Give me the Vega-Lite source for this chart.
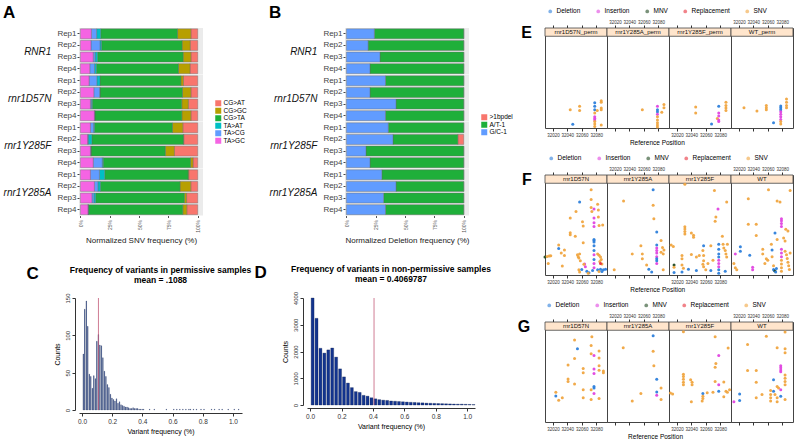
{
"$schema":"https://vega.github.io/schema/vega-lite/v6.json",
"background":"white",
"padding":{"left":3,"right":2,"top":4,"bottom":2},
"config":{"font":"Liberation Sans","view":{"stroke":null},"axis":{"labelFont":"Liberation Sans","titleFont":"Liberation Sans"},"legend":{"labelFont":"Liberation Sans","layout":{"top":{"anchor":"middle"}}},"title":{"font":"Liberation Sans"}},
"datasets":{
"snv":[
{"g":"RNR1","r":"Rep1","TA>GC":0.093,"TA>CG":0.045,"TA>AT":0.035,"CG>TA":0.655,"CG>GC":0.114,"CG>AT":0.058},
{"g":"RNR1","r":"Rep2","TA>GC":0.09,"TA>CG":0.077,"TA>AT":0.013,"CG>TA":0.687,"CG>GC":0.069,"CG>AT":0.064},
{"g":"RNR1","r":"Rep3","TA>GC":0.109,"TA>CG":0.016,"TA>AT":0.021,"CG>TA":0.729,"CG>GC":0.066,"CG>AT":0.058},
{"g":"RNR1","r":"Rep4","TA>GC":0.08,"TA>CG":0.04,"TA>AT":0.016,"CG>TA":0.70,"CG>GC":0.098,"CG>AT":0.066},
{"g":"rnr1D57N","r":"Rep1","TA>GC":0.074,"TA>CG":0.066,"TA>AT":0.027,"CG>TA":0.69,"CG>GC":0.021,"CG>AT":0.122},
{"g":"rnr1D57N","r":"Rep2","TA>GC":0.114,"TA>CG":0.05,"TA>AT":0.003,"CG>TA":0.703,"CG>GC":0.072,"CG>AT":0.058},
{"g":"rnr1D57N","r":"Rep3","TA>GC":0.085,"TA>CG":0.008,"TA>AT":0.008,"CG>TA":0.763,"CG>GC":0.056,"CG>AT":0.08},
{"g":"rnr1D57N","r":"Rep4","TA>GC":0.119,"TA>CG":0.003,"TA>AT":0,"CG>TA":0.743,"CG>GC":0.077,"CG>AT":0.058},
{"g":"rnr1Y285F","r":"Rep1","TA>GC":0.085,"TA>CG":0.027,"TA>AT":0.008,"CG>TA":0.665,"CG>GC":0.088,"CG>AT":0.127},
{"g":"rnr1Y285F","r":"Rep2","TA>GC":0.061,"TA>CG":0.005,"TA>AT":0.032,"CG>TA":0.78,"CG>GC":0.003,"CG>AT":0.119},
{"g":"rnr1Y285F","r":"Rep3","TA>GC":0.085,"TA>CG":0.005,"TA>AT":0,"CG>TA":0.634,"CG>GC":0.077,"CG>AT":0.199},
{"g":"rnr1Y285F","r":"Rep4","TA>GC":0.109,"TA>CG":0.077,"TA>AT":0.008,"CG>TA":0.745,"CG>GC":0.021,"CG>AT":0.04},
{"g":"rnr1Y285A","r":"Rep1","TA>GC":0.085,"TA>CG":0.077,"TA>AT":0.045,"CG>TA":0.711,"CG>GC":0.005,"CG>AT":0.077},
{"g":"rnr1Y285A","r":"Rep2","TA>GC":0.117,"TA>CG":0.029,"TA>AT":0.021,"CG>TA":0.668,"CG>GC":0.09,"CG>AT":0.058},
{"g":"rnr1Y285A","r":"Rep3","TA>GC":0.098,"TA>CG":0.016,"TA>AT":0.016,"CG>TA":0.756,"CG>GC":0.019,"CG>AT":0.095},
{"g":"rnr1Y285A","r":"Rep4","TA>GC":0.064,"TA>CG":0.003,"TA>AT":0,"CG>TA":0.806,"CG>GC":0.034,"CG>AT":0.093}],
"del":[
{"g":"RNR1","r":"Rep1","G/C-1":0.238,"A/T-1":0.762,">1bpdel":0},
{"g":"RNR1","r":"Rep2","G/C-1":0.185,"A/T-1":0.815,">1bpdel":0},
{"g":"RNR1","r":"Rep3","G/C-1":0.286,"A/T-1":0.714,">1bpdel":0},
{"g":"RNR1","r":"Rep4","G/C-1":0.201,"A/T-1":0.799,">1bpdel":0},
{"g":"rnr1D57N","r":"Rep1","G/C-1":0.333,"A/T-1":0.667,">1bpdel":0},
{"g":"rnr1D57N","r":"Rep2","G/C-1":0.201,"A/T-1":0.799,">1bpdel":0},
{"g":"rnr1D57N","r":"Rep3","G/C-1":0.423,"A/T-1":0.577,">1bpdel":0},
{"g":"rnr1D57N","r":"Rep4","G/C-1":0.333,"A/T-1":0.667,">1bpdel":0},
{"g":"rnr1Y285F","r":"Rep1","G/C-1":0.357,"A/T-1":0.643,">1bpdel":0},
{"g":"rnr1Y285F","r":"Rep2","G/C-1":0.397,"A/T-1":0.553,">1bpdel":0.05},
{"g":"rnr1Y285F","r":"Rep3","G/C-1":0.167,"A/T-1":0.833,">1bpdel":0},
{"g":"rnr1Y285F","r":"Rep4","G/C-1":0.201,"A/T-1":0.799,">1bpdel":0},
{"g":"rnr1Y285A","r":"Rep1","G/C-1":0.302,"A/T-1":0.698,">1bpdel":0},
{"g":"rnr1Y285A","r":"Rep2","G/C-1":0.423,"A/T-1":0.577,">1bpdel":0},
{"g":"rnr1Y285A","r":"Rep3","G/C-1":0.317,"A/T-1":0.683,">1bpdel":0},
{"g":"rnr1Y285A","r":"Rep4","G/C-1":0.333,"A/T-1":0.667,">1bpdel":0}],
"histC":[
{"lo":0,"hi":0.01,"n":75},{"lo":0.01,"hi":0.02,"n":135},{"lo":0.02,"hi":0.03,"n":146},{"lo":0.03,"hi":0.04,"n":112},{"lo":0.04,"hi":0.05,"n":48},{"lo":0.05,"hi":0.06,"n":45},{"lo":0.06,"hi":0.07,"n":29},{"lo":0.07,"hi":0.08,"n":46},{"lo":0.08,"hi":0.09,"n":42},{"lo":0.09,"hi":0.1,"n":92},{"lo":0.1,"hi":0.11,"n":101},{"lo":0.11,"hi":0.12,"n":87},{"lo":0.12,"hi":0.13,"n":86},{"lo":0.13,"hi":0.14,"n":70},{"lo":0.14,"hi":0.15,"n":52},{"lo":0.15,"hi":0.16,"n":45},{"lo":0.16,"hi":0.17,"n":34},{"lo":0.17,"hi":0.18,"n":30},{"lo":0.18,"hi":0.19,"n":21},{"lo":0.19,"hi":0.2,"n":16},{"lo":0.2,"hi":0.21,"n":14},{"lo":0.21,"hi":0.22,"n":12},{"lo":0.22,"hi":0.23,"n":15},{"lo":0.23,"hi":0.24,"n":9},{"lo":0.24,"hi":0.25,"n":11},{"lo":0.25,"hi":0.26,"n":7},{"lo":0.26,"hi":0.27,"n":6},{"lo":0.27,"hi":0.28,"n":5},{"lo":0.28,"hi":0.29,"n":4},{"lo":0.29,"hi":0.3,"n":4},{"lo":0.3,"hi":0.31,"n":3},{"lo":0.31,"hi":0.32,"n":2},{"lo":0.32,"hi":0.33,"n":2},{"lo":0.33,"hi":0.34,"n":3},{"lo":0.34,"hi":0.35,"n":2},{"lo":0.35,"hi":0.36,"n":2},{"lo":0.36,"hi":0.37,"n":2},{"lo":0.37,"hi":0.38,"n":1},{"lo":0.38,"hi":0.39,"n":1},{"lo":0.39,"hi":0.4,"n":1},{"lo":0.4,"hi":0.41,"n":1},{"lo":0.44,"hi":0.45,"n":1},{"lo":0.47,"hi":0.48,"n":1},{"lo":0.55,"hi":0.56,"n":1},{"lo":0.6,"hi":0.61,"n":1},{"lo":0.62,"hi":0.63,"n":1},{"lo":0.64,"hi":0.65,"n":1},{"lo":0.66,"hi":0.67,"n":1},{"lo":0.68,"hi":0.69,"n":1},{"lo":0.7,"hi":0.71,"n":1},{"lo":0.71,"hi":0.72,"n":1},{"lo":0.73,"hi":0.74,"n":1},{"lo":0.75,"hi":0.76,"n":1},{"lo":0.78,"hi":0.79,"n":1},{"lo":0.8,"hi":0.81,"n":1},{"lo":0.85,"hi":0.86,"n":1},{"lo":0.87,"hi":0.88,"n":1},{"lo":0.9,"hi":0.91,"n":1},{"lo":0.92,"hi":0.93,"n":1},{"lo":0.96,"hi":0.97,"n":1},{"lo":1.0,"hi":1.01,"n":1},{"lo":1.03,"hi":1.04,"n":1}],
"histD":[
{"lo":0,"hi":0.025,"n":4000},{"lo":0.025,"hi":0.05,"n":3240},{"lo":0.05,"hi":0.075,"n":2120},{"lo":0.075,"hi":0.1,"n":1940},{"lo":0.1,"hi":0.125,"n":2060},{"lo":0.125,"hi":0.15,"n":2130},{"lo":0.15,"hi":0.175,"n":1790},{"lo":0.175,"hi":0.2,"n":1350},{"lo":0.2,"hi":0.225,"n":1050},{"lo":0.225,"hi":0.25,"n":820},{"lo":0.25,"hi":0.275,"n":650},{"lo":0.275,"hi":0.3,"n":500},{"lo":0.3,"hi":0.325,"n":470},{"lo":0.325,"hi":0.35,"n":360},{"lo":0.35,"hi":0.375,"n":330},{"lo":0.375,"hi":0.4,"n":270},{"lo":0.4,"hi":0.425,"n":230},{"lo":0.425,"hi":0.45,"n":200},{"lo":0.45,"hi":0.475,"n":180},{"lo":0.475,"hi":0.5,"n":170},{"lo":0.5,"hi":0.525,"n":150},{"lo":0.525,"hi":0.55,"n":140},{"lo":0.55,"hi":0.575,"n":130},{"lo":0.575,"hi":0.6,"n":120},{"lo":0.6,"hi":0.625,"n":110},{"lo":0.625,"hi":0.65,"n":100},{"lo":0.65,"hi":0.675,"n":95},{"lo":0.675,"hi":0.7,"n":85},{"lo":0.7,"hi":0.725,"n":80},{"lo":0.725,"hi":0.75,"n":70},{"lo":0.75,"hi":0.775,"n":65},{"lo":0.775,"hi":0.8,"n":60},{"lo":0.8,"hi":0.825,"n":55},{"lo":0.825,"hi":0.85,"n":50},{"lo":0.85,"hi":0.875,"n":45},{"lo":0.875,"hi":0.9,"n":40},{"lo":0.9,"hi":0.925,"n":35},{"lo":0.925,"hi":0.95,"n":30},{"lo":0.95,"hi":0.975,"n":30},{"lo":0.975,"hi":1.0,"n":25},{"lo":1.0,"hi":1.025,"n":20},{"lo":1.025,"hi":1.05,"n":15}],
"meanC":[{"m":0.1088}],
"meanD":[{"m":0.4069787}],
"strips":[
{"s":"E","i":1,"p":"rnr1D57N_perm"},{"s":"E","i":2,"p":"rnr1Y285A_perm"},{"s":"E","i":3,"p":"rnr1Y285F_perm"},{"s":"E","i":4,"p":"WT_perm"},
{"s":"F","i":1,"p":"rnr1D57N"},{"s":"F","i":2,"p":"rnr1Y285A"},{"s":"F","i":3,"p":"rnr1Y285F"},{"s":"F","i":4,"p":"WT"},
{"s":"G","i":1,"p":"rnr1D57N"},{"s":"G","i":2,"p":"rnr1Y285A"},{"s":"G","i":3,"p":"rnr1Y285F"},{"s":"G","i":4,"p":"WT"}],
"pts":[
{"s":"E","i":1,"x":32044,"y":0.1,"t":"SNV"},{"s":"E","i":1,"x":32047.5,"y":0.021,"t":"Deletion"},{"s":"E","i":1,"x":32057,"y":0.118,"t":"SNV"},{"s":"E","i":1,"x":32057,"y":0.096,"t":"SNV"},{"s":"E","i":1,"x":32078,"y":0.137,"t":"Deletion"},{"s":"E","i":1,"x":32078,"y":0.118,"t":"Deletion"},{"s":"E","i":1,"x":32078,"y":0.1,"t":"Deletion"},{"s":"E","i":1,"x":32078,"y":0.082,"t":"SNV"},{"s":"E","i":1,"x":32078,"y":0.061,"t":"Insertion"},{"s":"E","i":1,"x":32078,"y":0.052,"t":"Insertion"},{"s":"E","i":1,"x":32078,"y":0.044,"t":"Insertion"},{"s":"E","i":1,"x":32078,"y":0.035,"t":"SNV"},{"s":"E","i":1,"x":32078,"y":0.022,"t":"SNV"},{"s":"E","i":1,"x":32078,"y":0.008,"t":"SNV"},{"s":"E","i":1,"x":32081.5,"y":0.096,"t":"SNV"},{"s":"E","i":1,"x":32087,"y":0.149,"t":"SNV"},{"s":"E","i":1,"x":32087,"y":0.141,"t":"SNV"},{"s":"E","i":1,"x":32087,"y":0.109,"t":"SNV"},{"s":"E","i":1,"x":32087,"y":0.1,"t":"SNV"},{"s":"E","i":1,"x":32087,"y":0.017,"t":"SNV"},
{"s":"E","i":2,"x":32058,"y":0.1,"t":"SNV"},{"s":"E","i":2,"x":32079,"y":0.118,"t":"Insertion"},{"s":"E","i":2,"x":32079,"y":0.1,"t":"Deletion"},{"s":"E","i":2,"x":32079,"y":0.088,"t":"Deletion"},{"s":"E","i":2,"x":32079,"y":0.075,"t":"Insertion"},{"s":"E","i":2,"x":32079,"y":0.061,"t":"SNV"},{"s":"E","i":2,"x":32079,"y":0.044,"t":"SNV"},{"s":"E","i":2,"x":32079,"y":0.029,"t":"SNV"},{"s":"E","i":2,"x":32079,"y":0.017,"t":"SNV"},{"s":"E","i":2,"x":32079,"y":0.005,"t":"SNV"},{"s":"E","i":2,"x":32085,"y":0.086,"t":"SNV"},{"s":"E","i":2,"x":32088,"y":0.128,"t":"SNV"},{"s":"E","i":2,"x":32088,"y":0.11,"t":"SNV"},
{"s":"E","i":3,"x":32046,"y":0.114,"t":"SNV"},{"s":"E","i":3,"x":32046,"y":0.082,"t":"SNV"},{"s":"E","i":3,"x":32068,"y":0.022,"t":"Deletion"},{"s":"E","i":3,"x":32078,"y":0.118,"t":"Deletion"},{"s":"E","i":3,"x":32078,"y":0.082,"t":"Insertion"},{"s":"E","i":3,"x":32078,"y":0.065,"t":"Insertion"},{"s":"E","i":3,"x":32076,"y":0.052,"t":"SNV"},{"s":"E","i":3,"x":32078,"y":0.044,"t":"Insertion"},{"s":"E","i":3,"x":32078,"y":0.035,"t":"Insertion"},{"s":"E","i":3,"x":32088,"y":0.141,"t":"SNV"},{"s":"E","i":3,"x":32088,"y":0.123,"t":"SNV"},{"s":"E","i":3,"x":32088,"y":0.109,"t":"SNV"},{"s":"E","i":3,"x":32088,"y":0.096,"t":"SNV"},
{"s":"E","i":4,"x":32027,"y":0.11,"t":"SNV"},{"s":"E","i":4,"x":32045,"y":0.093,"t":"SNV"},{"s":"E","i":4,"x":32058,"y":0.123,"t":"SNV"},{"s":"E","i":4,"x":32058,"y":0.11,"t":"SNV"},{"s":"E","i":4,"x":32058,"y":0.1,"t":"SNV"},{"s":"E","i":4,"x":32068,"y":0.029,"t":"Deletion"},{"s":"E","i":4,"x":32078,"y":0.12,"t":"Deletion"},{"s":"E","i":4,"x":32078,"y":0.11,"t":"Deletion"},{"s":"E","i":4,"x":32078,"y":0.1,"t":"Deletion"},{"s":"E","i":4,"x":32078,"y":0.088,"t":"Insertion"},{"s":"E","i":4,"x":32078,"y":0.075,"t":"Insertion"},{"s":"E","i":4,"x":32078,"y":0.061,"t":"Insertion"},{"s":"E","i":4,"x":32078,"y":0.047,"t":"Insertion"},{"s":"E","i":4,"x":32078,"y":0.035,"t":"SNV"},{"s":"E","i":4,"x":32078,"y":0.022,"t":"SNV"},{"s":"E","i":4,"x":32086,"y":0.158,"t":"SNV"},{"s":"E","i":4,"x":32086,"y":0.141,"t":"SNV"},{"s":"E","i":4,"x":32086,"y":0.123,"t":"SNV"},{"s":"E","i":4,"x":32086,"y":0.11,"t":"SNV"},
{"s":"F","i":1,"x":32009,"y":0.098,"t":"MNV"},{"s":"F","i":1,"x":32012,"y":0.101,"t":"SNV"},{"s":"F","i":1,"x":32015,"y":0.103,"t":"SNV"},{"s":"F","i":1,"x":32017,"y":0.105,"t":"SNV"},{"s":"F","i":1,"x":32013.5,"y":0.063,"t":"SNV"},{"s":"F","i":1,"x":32028,"y":0.164,"t":"SNV"},{"s":"F","i":1,"x":32028,"y":0.145,"t":"Deletion"},{"s":"F","i":1,"x":32031.5,"y":0.12,"t":"SNV"},{"s":"F","i":1,"x":32036,"y":0.136,"t":"SNV"},{"s":"F","i":1,"x":32036,"y":0.106,"t":"SNV"},{"s":"F","i":1,"x":32033,"y":0.049,"t":"SNV"},{"s":"F","i":1,"x":32044,"y":0.23,"t":"SNV"},{"s":"F","i":1,"x":32044,"y":0.22,"t":"SNV"},{"s":"F","i":1,"x":32044,"y":0.31,"t":"SNV"},{"s":"F","i":1,"x":32051,"y":0.211,"t":"SNV"},{"s":"F","i":1,"x":32052,"y":0.346,"t":"SNV"},{"s":"F","i":1,"x":32057,"y":0.398,"t":"Deletion"},{"s":"F","i":1,"x":32054,"y":0.11,"t":"SNV"},{"s":"F","i":1,"x":32055,"y":0.1,"t":"SNV"},{"s":"F","i":1,"x":32056,"y":0.093,"t":"SNV"},{"s":"F","i":1,"x":32057,"y":0.115,"t":"SNV"},{"s":"F","i":1,"x":32058,"y":0.077,"t":"SNV"},{"s":"F","i":1,"x":32056,"y":0.028,"t":"SNV"},{"s":"F","i":1,"x":32057,"y":0.016,"t":"SNV"},{"s":"F","i":1,"x":32061,"y":0.29,"t":"SNV"},{"s":"F","i":1,"x":32062,"y":0.267,"t":"SNV"},{"s":"F","i":1,"x":32062,"y":0.176,"t":"SNV"},{"s":"F","i":1,"x":32064,"y":0.06,"t":"Insertion"},{"s":"F","i":1,"x":32065,"y":0.045,"t":"Insertion"},{"s":"F","i":1,"x":32063,"y":0.058,"t":"SNV"},{"s":"F","i":1,"x":32067,"y":0.02,"t":"Deletion"},{"s":"F","i":1,"x":32070,"y":0.012,"t":"Deletion"},{"s":"F","i":1,"x":32073,"y":0.464,"t":"SNV"},{"s":"F","i":1,"x":32073,"y":0.412,"t":"SNV"},{"s":"F","i":1,"x":32073,"y":0.368,"t":"SNV"},{"s":"F","i":1,"x":32074,"y":0.346,"t":"SNV"},{"s":"F","i":1,"x":32077,"y":0.36,"t":"Insertion"},{"s":"F","i":1,"x":32077,"y":0.31,"t":"Insertion"},{"s":"F","i":1,"x":32077,"y":0.285,"t":"Insertion"},{"s":"F","i":1,"x":32077,"y":0.264,"t":"Insertion"},{"s":"F","i":1,"x":32077,"y":0.194,"t":"Deletion"},{"s":"F","i":1,"x":32077,"y":0.188,"t":"Deletion"},{"s":"F","i":1,"x":32077,"y":0.18,"t":"Deletion"},{"s":"F","i":1,"x":32077,"y":0.16,"t":"Deletion"},{"s":"F","i":1,"x":32077,"y":0.133,"t":"Deletion"},{"s":"F","i":1,"x":32077,"y":0.11,"t":"Insertion"},{"s":"F","i":1,"x":32077,"y":0.085,"t":"Deletion"},{"s":"F","i":1,"x":32077,"y":0.063,"t":"Insertion"},{"s":"F","i":1,"x":32077,"y":0.04,"t":"Insertion"},{"s":"F","i":1,"x":32075,"y":0.024,"t":"Deletion"},{"s":"F","i":1,"x":32082,"y":0.386,"t":"SNV"},{"s":"F","i":1,"x":32083,"y":0.354,"t":"SNV"},{"s":"F","i":1,"x":32083,"y":0.316,"t":"SNV"},{"s":"F","i":1,"x":32084,"y":0.27,"t":"SNV"},{"s":"F","i":1,"x":32089,"y":0.272,"t":"SNV"},{"s":"F","i":1,"x":32082,"y":0.115,"t":"SNV"},{"s":"F","i":1,"x":32084,"y":0.107,"t":"SNV"},{"s":"F","i":1,"x":32086,"y":0.098,"t":"SNV"},{"s":"F","i":1,"x":32087,"y":0.084,"t":"SNV"},{"s":"F","i":1,"x":32085,"y":0.073,"t":"SNV"},{"s":"F","i":1,"x":32088,"y":0.06,"t":"SNV"},{"s":"F","i":1,"x":32086,"y":0.063,"t":"Replacement"},{"s":"F","i":1,"x":32082,"y":0.028,"t":"Deletion"},{"s":"F","i":1,"x":32084,"y":0.019,"t":"SNV"},{"s":"F","i":1,"x":32086,"y":0.031,"t":"Deletion"},{"s":"F","i":1,"x":32088,"y":0.019,"t":"Deletion"},{"s":"F","i":1,"x":32090,"y":0.028,"t":"Deletion"},{"s":"F","i":1,"x":32093,"y":0.031,"t":"Deletion"},{"s":"F","i":1,"x":32069,"y":0.01,"t":"SNV"},{"s":"F","i":1,"x":32060,"y":0.03,"t":"Deletion"},
{"s":"F","i":2,"x":32032,"y":0.403,"t":"SNV"},{"s":"F","i":2,"x":32073,"y":0.464,"t":"Deletion"},{"s":"F","i":2,"x":32073,"y":0.38,"t":"SNV"},{"s":"F","i":2,"x":32074,"y":0.307,"t":"SNV"},{"s":"F","i":2,"x":32078,"y":0.234,"t":"Deletion"},{"s":"F","i":2,"x":32078,"y":0.164,"t":"Deletion"},{"s":"F","i":2,"x":32078,"y":0.147,"t":"Insertion"},{"s":"F","i":2,"x":32078,"y":0.133,"t":"Insertion"},{"s":"F","i":2,"x":32078,"y":0.12,"t":"Insertion"},{"s":"F","i":2,"x":32078,"y":0.1,"t":"Insertion"},{"s":"F","i":2,"x":32078,"y":0.089,"t":"Deletion"},{"s":"F","i":2,"x":32078,"y":0.077,"t":"Deletion"},{"s":"F","i":2,"x":32078,"y":0.063,"t":"Insertion"},{"s":"F","i":2,"x":32084,"y":0.188,"t":"SNV"},{"s":"F","i":2,"x":32084,"y":0.124,"t":"SNV"},{"s":"F","i":2,"x":32086,"y":0.15,"t":"SNV"},{"s":"F","i":2,"x":32087,"y":0.115,"t":"SNV"},{"s":"F","i":2,"x":32088,"y":0.136,"t":"SNV"},{"s":"F","i":2,"x":32087,"y":0.028,"t":"SNV"},{"s":"F","i":2,"x":32056,"y":0.159,"t":"SNV"},{"s":"F","i":2,"x":32058,"y":0.115,"t":"SNV"},{"s":"F","i":2,"x":32058,"y":0.089,"t":"SNV"},{"s":"F","i":2,"x":32044,"y":0.115,"t":"SNV"},{"s":"F","i":2,"x":32019,"y":0.028,"t":"SNV"},{"s":"F","i":2,"x":32064,"y":0.054,"t":"SNV"},{"s":"F","i":2,"x":32067,"y":0.031,"t":"Deletion"},{"s":"F","i":2,"x":32071,"y":0.016,"t":"Deletion"},
{"s":"F","i":3,"x":32031,"y":0.495,"t":"SNV"},{"s":"F","i":3,"x":32072,"y":0.46,"t":"SNV"},{"s":"F","i":3,"x":32089,"y":0.398,"t":"SNV"},{"s":"F","i":3,"x":32077,"y":0.36,"t":"Insertion"},{"s":"F","i":3,"x":32074,"y":0.316,"t":"SNV"},{"s":"F","i":3,"x":32073,"y":0.293,"t":"SNV"},{"s":"F","i":3,"x":32012,"y":0.164,"t":"SNV"},{"s":"F","i":3,"x":32015,"y":0.155,"t":"SNV"},{"s":"F","i":3,"x":32031,"y":0.263,"t":"SNV"},{"s":"F","i":3,"x":32031,"y":0.251,"t":"SNV"},{"s":"F","i":3,"x":32031,"y":0.237,"t":"SNV"},{"s":"F","i":3,"x":32031,"y":0.223,"t":"SNV"},{"s":"F","i":3,"x":32040,"y":0.229,"t":"SNV"},{"s":"F","i":3,"x":32043,"y":0.216,"t":"SNV"},{"s":"F","i":3,"x":32043,"y":0.206,"t":"SNV"},{"s":"F","i":3,"x":32027,"y":0.106,"t":"SNV"},{"s":"F","i":3,"x":32027,"y":0.089,"t":"SNV"},{"s":"F","i":3,"x":32040,"y":0.112,"t":"SNV"},{"s":"F","i":3,"x":32047,"y":0.098,"t":"SNV"},{"s":"F","i":3,"x":32051,"y":0.106,"t":"SNV"},{"s":"F","i":3,"x":32027,"y":0.054,"t":"SNV"},{"s":"F","i":3,"x":32029,"y":0.037,"t":"SNV"},{"s":"F","i":3,"x":32016,"y":0.054,"t":"MNV"},{"s":"F","i":3,"x":32016,"y":0.042,"t":"SNV"},{"s":"F","i":3,"x":32016,"y":0.014,"t":"Deletion"},{"s":"F","i":3,"x":32027,"y":0.016,"t":"Deletion"},{"s":"F","i":3,"x":32036,"y":0.031,"t":"Deletion"},{"s":"F","i":3,"x":32047,"y":0.024,"t":"Deletion"},{"s":"F","i":3,"x":32057,"y":0.159,"t":"Deletion"},{"s":"F","i":3,"x":32067,"y":0.159,"t":"SNV"},{"s":"F","i":3,"x":32078,"y":0.168,"t":"Deletion"},{"s":"F","i":3,"x":32078,"y":0.141,"t":"Deletion"},{"s":"F","i":3,"x":32078,"y":0.115,"t":"Deletion"},{"s":"F","i":3,"x":32078,"y":0.098,"t":"Deletion"},{"s":"F","i":3,"x":32078,"y":0.08,"t":"Insertion"},{"s":"F","i":3,"x":32078,"y":0.063,"t":"Insertion"},{"s":"F","i":3,"x":32078,"y":0.045,"t":"Insertion"},{"s":"F","i":3,"x":32078,"y":0.028,"t":"Deletion"},{"s":"F","i":3,"x":32078,"y":0.01,"t":"Deletion"},{"s":"F","i":3,"x":32067,"y":0.024,"t":"Deletion"},{"s":"F","i":3,"x":32057,"y":0.045,"t":"SNV"},{"s":"F","i":3,"x":32060,"y":0.028,"t":"SNV"},{"s":"F","i":3,"x":32063,"y":0.063,"t":"SNV"},{"s":"F","i":3,"x":32070,"y":0.08,"t":"SNV"},{"s":"F","i":3,"x":32083,"y":0.211,"t":"SNV"},{"s":"F","i":3,"x":32084,"y":0.168,"t":"SNV"},{"s":"F","i":3,"x":32085,"y":0.147,"t":"SNV"},{"s":"F","i":3,"x":32087,"y":0.133,"t":"SNV"},{"s":"F","i":3,"x":32088,"y":0.115,"t":"SNV"},{"s":"F","i":3,"x":32089,"y":0.098,"t":"SNV"},{"s":"F","i":3,"x":32090,"y":0.168,"t":"SNV"},{"s":"F","i":3,"x":32087,"y":0.02,"t":"Deletion"},{"s":"F","i":3,"x":32056,"y":0.133,"t":"SNV"},{"s":"F","i":3,"x":32057,"y":0.106,"t":"SNV"},{"s":"F","i":3,"x":32057,"y":0.077,"t":"SNV"},{"s":"F","i":3,"x":32056,"y":0.059,"t":"SNV"},
{"s":"F","i":4,"x":32033,"y":0.415,"t":"SNV"},{"s":"F","i":4,"x":32033,"y":0.276,"t":"SNV"},{"s":"F","i":4,"x":32044,"y":0.276,"t":"SNV"},{"s":"F","i":4,"x":32044,"y":0.215,"t":"SNV"},{"s":"F","i":4,"x":32061,"y":0.464,"t":"SNV"},{"s":"F","i":4,"x":32073,"y":0.403,"t":"SNV"},{"s":"F","i":4,"x":32077,"y":0.398,"t":"SNV"},{"s":"F","i":4,"x":32091,"y":0.461,"t":"SNV"},{"s":"F","i":4,"x":32079,"y":0.307,"t":"Insertion"},{"s":"F","i":4,"x":32079,"y":0.296,"t":"Insertion"},{"s":"F","i":4,"x":32079,"y":0.281,"t":"Insertion"},{"s":"F","i":4,"x":32079,"y":0.264,"t":"Insertion"},{"s":"F","i":4,"x":32070,"y":0.229,"t":"Deletion"},{"s":"F","i":4,"x":32073,"y":0.194,"t":"SNV"},{"s":"F","i":4,"x":32082,"y":0.202,"t":"SNV"},{"s":"F","i":4,"x":32084,"y":0.185,"t":"SNV"},{"s":"F","i":4,"x":32022,"y":0.154,"t":"Deletion"},{"s":"F","i":4,"x":32022,"y":0.129,"t":"Deletion"},{"s":"F","i":4,"x":32035,"y":0.108,"t":"Deletion"},{"s":"F","i":4,"x":32015,"y":0.115,"t":"Insertion"},{"s":"F","i":4,"x":32013,"y":0.063,"t":"SNV"},{"s":"F","i":4,"x":32015,"y":0.04,"t":"SNV"},{"s":"F","i":4,"x":32039,"y":0.042,"t":"Insertion"},{"s":"F","i":4,"x":32039,"y":0.028,"t":"Insertion"},{"s":"F","i":4,"x":32017,"y":0.028,"t":"SNV"},{"s":"F","i":4,"x":32053,"y":0.141,"t":"SNV"},{"s":"F","i":4,"x":32053,"y":0.115,"t":"SNV"},{"s":"F","i":4,"x":32058,"y":0.089,"t":"SNV"},{"s":"F","i":4,"x":32056,"y":0.063,"t":"SNV"},{"s":"F","i":4,"x":32060,"y":0.08,"t":"SNV"},{"s":"F","i":4,"x":32065,"y":0.168,"t":"SNV"},{"s":"F","i":4,"x":32066,"y":0.136,"t":"Deletion"},{"s":"F","i":4,"x":32066,"y":0.1,"t":"SNV"},{"s":"F","i":4,"x":32068,"y":0.05,"t":"SNV"},{"s":"F","i":4,"x":32068,"y":0.03,"t":"Deletion"},{"s":"F","i":4,"x":32069,"y":0.025,"t":"Deletion"},{"s":"F","i":4,"x":32070,"y":0.022,"t":"MNV"},{"s":"F","i":4,"x":32071,"y":0.017,"t":"Deletion"},{"s":"F","i":4,"x":32072,"y":0.035,"t":"Deletion"},{"s":"F","i":4,"x":32079,"y":0.141,"t":"Insertion"},{"s":"F","i":4,"x":32079,"y":0.12,"t":"Insertion"},{"s":"F","i":4,"x":32079,"y":0.1,"t":"Insertion"},{"s":"F","i":4,"x":32079,"y":0.08,"t":"SNV"},{"s":"F","i":4,"x":32079,"y":0.06,"t":"SNV"},{"s":"F","i":4,"x":32079,"y":0.04,"t":"SNV"},{"s":"F","i":4,"x":32079,"y":0.02,"t":"SNV"},{"s":"F","i":4,"x":32084,"y":0.13,"t":"SNV"},{"s":"F","i":4,"x":32086,"y":0.11,"t":"SNV"},{"s":"F","i":4,"x":32087,"y":0.09,"t":"SNV"},{"s":"F","i":4,"x":32088,"y":0.07,"t":"SNV"},{"s":"F","i":4,"x":32089,"y":0.05,"t":"SNV"},{"s":"F","i":4,"x":32090,"y":0.03,"t":"SNV"},{"s":"F","i":4,"x":32091,"y":0.12,"t":"SNV"},{"s":"F","i":4,"x":32085,"y":0.25,"t":"SNV"},{"s":"F","i":4,"x":32088,"y":0.24,"t":"SNV"},
{"s":"G","i":1,"x":32050,"y":0.447,"t":"SNV"},{"s":"G","i":1,"x":32074,"y":0.465,"t":"SNV"},{"s":"G","i":1,"x":32054,"y":0.399,"t":"Deletion"},{"s":"G","i":1,"x":32073,"y":0.417,"t":"SNV"},{"s":"G","i":1,"x":32084,"y":0.387,"t":"SNV"},{"s":"G","i":1,"x":32073,"y":0.372,"t":"SNV"},{"s":"G","i":1,"x":32077,"y":0.363,"t":"Insertion"},{"s":"G","i":1,"x":32084,"y":0.349,"t":"SNV"},{"s":"G","i":1,"x":32050,"y":0.346,"t":"SNV"},{"s":"G","i":1,"x":32041,"y":0.31,"t":"SNV"},{"s":"G","i":1,"x":32062,"y":0.292,"t":"SNV"},{"s":"G","i":1,"x":32062,"y":0.269,"t":"SNV"},{"s":"G","i":1,"x":32077,"y":0.289,"t":"Insertion"},{"s":"G","i":1,"x":32077,"y":0.265,"t":"Insertion"},{"s":"G","i":1,"x":32084,"y":0.307,"t":"SNV"},{"s":"G","i":1,"x":32084,"y":0.282,"t":"SNV"},{"s":"G","i":1,"x":32090,"y":0.278,"t":"SNV"},{"s":"G","i":1,"x":32090,"y":0.269,"t":"SNV"},{"s":"G","i":1,"x":32041,"y":0.235,"t":"SNV"},{"s":"G","i":1,"x":32041,"y":0.221,"t":"SNV"},{"s":"G","i":1,"x":32050,"y":0.207,"t":"SNV"},{"s":"G","i":1,"x":32062,"y":0.176,"t":"SNV"},{"s":"G","i":1,"x":32073,"y":0.176,"t":"SNV"},{"s":"G","i":1,"x":32077,"y":0.194,"t":"Deletion"},{"s":"G","i":1,"x":32077,"y":0.185,"t":"Deletion"},{"s":"G","i":1,"x":32077,"y":0.155,"t":"Insertion"},{"s":"G","i":1,"x":32024,"y":0.162,"t":"SNV"},{"s":"G","i":1,"x":32024,"y":0.142,"t":"Deletion"},{"s":"G","i":1,"x":32033,"y":0.132,"t":"SNV"},{"s":"G","i":1,"x":32028,"y":0.118,"t":"SNV"},{"s":"G","i":1,"x":32062,"y":0.132,"t":"SNV"},{"s":"G","i":1,"x":32073,"y":0.123,"t":"SNV"},{"s":"G","i":1,"x":32084,"y":0.128,"t":"SNV"},
{"s":"G","i":2,"x":32031.5,"y":0.404,"t":"SNV"},{"s":"G","i":2,"x":32073,"y":0.47,"t":"Deletion"},{"s":"G","i":2,"x":32073,"y":0.385,"t":"SNV"},{"s":"G","i":2,"x":32074,"y":0.306,"t":"SNV"},{"s":"G","i":2,"x":32078,"y":0.233,"t":"Deletion"},{"s":"G","i":2,"x":32078,"y":0.164,"t":"Deletion"},{"s":"G","i":2,"x":32078,"y":0.146,"t":"Insertion"},{"s":"G","i":2,"x":32084,"y":0.185,"t":"SNV"},{"s":"G","i":2,"x":32084,"y":0.123,"t":"SNV"},{"s":"G","i":2,"x":32056,"y":0.155,"t":"SNV"},{"s":"G","i":2,"x":32044,"y":0.114,"t":"SNV"},
{"s":"G","i":3,"x":32029,"y":0.492,"t":"SNV"},{"s":"G","i":3,"x":32073,"y":0.465,"t":"SNV"},{"s":"G","i":3,"x":32091,"y":0.403,"t":"SNV"},{"s":"G","i":3,"x":32078,"y":0.363,"t":"Insertion"},{"s":"G","i":3,"x":32074,"y":0.319,"t":"SNV"},{"s":"G","i":3,"x":32073,"y":0.298,"t":"SNV"},{"s":"G","i":3,"x":32029,"y":0.26,"t":"SNV"},{"s":"G","i":3,"x":32029,"y":0.248,"t":"SNV"},{"s":"G","i":3,"x":32029,"y":0.233,"t":"SNV"},{"s":"G","i":3,"x":32029,"y":0.217,"t":"SNV"},{"s":"G","i":3,"x":32029,"y":0.203,"t":"SNV"},{"s":"G","i":3,"x":32039,"y":0.23,"t":"SNV"},{"s":"G","i":3,"x":32041,"y":0.216,"t":"SNV"},{"s":"G","i":3,"x":32041,"y":0.203,"t":"SNV"},{"s":"G","i":3,"x":32073,"y":0.221,"t":"SNV"},{"s":"G","i":3,"x":32085,"y":0.218,"t":"SNV"},{"s":"G","i":3,"x":32078,"y":0.203,"t":"Insertion"},{"s":"G","i":3,"x":32011,"y":0.158,"t":"SNV"},{"s":"G","i":3,"x":32014,"y":0.153,"t":"SNV"},{"s":"G","i":3,"x":32056,"y":0.155,"t":"Deletion"},{"s":"G","i":3,"x":32062,"y":0.159,"t":"SNV"},{"s":"G","i":3,"x":32078,"y":0.167,"t":"Deletion"},{"s":"G","i":3,"x":32070,"y":0.162,"t":"SNV"},{"s":"G","i":3,"x":32088,"y":0.167,"t":"SNV"},{"s":"G","i":3,"x":32090,"y":0.162,"t":"SNV"},{"s":"G","i":3,"x":32093,"y":0.176,"t":"SNV"},{"s":"G","i":3,"x":32056,"y":0.141,"t":"SNV"},{"s":"G","i":3,"x":32056,"y":0.128,"t":"SNV"},{"s":"G","i":3,"x":32055,"y":0.114,"t":"SNV"},{"s":"G","i":3,"x":32040,"y":0.11,"t":"SNV"},{"s":"G","i":3,"x":32085,"y":0.137,"t":"SNV"},
{"s":"G","i":4,"x":32058,"y":0.467,"t":"SNV"},{"s":"G","i":4,"x":32084,"y":0.49,"t":"SNV"},{"s":"G","i":4,"x":32032,"y":0.422,"t":"SNV"},{"s":"G","i":4,"x":32073,"y":0.405,"t":"SNV"},{"s":"G","i":4,"x":32084,"y":0.399,"t":"SNV"},{"s":"G","i":4,"x":32084,"y":0.378,"t":"SNV"},{"s":"G","i":4,"x":32078,"y":0.306,"t":"Insertion"},{"s":"G","i":4,"x":32078,"y":0.296,"t":"Insertion"},{"s":"G","i":4,"x":32078,"y":0.283,"t":"Insertion"},{"s":"G","i":4,"x":32078,"y":0.274,"t":"Insertion"},{"s":"G","i":4,"x":32084,"y":0.256,"t":"SNV"},{"s":"G","i":4,"x":32084,"y":0.239,"t":"SNV"},{"s":"G","i":4,"x":32032,"y":0.281,"t":"SNV"},{"s":"G","i":4,"x":32044,"y":0.281,"t":"SNV"},{"s":"G","i":4,"x":32044,"y":0.217,"t":"SNV"},{"s":"G","i":4,"x":32068,"y":0.23,"t":"Deletion"},{"s":"G","i":4,"x":32084,"y":0.221,"t":"SNV"},{"s":"G","i":4,"x":32084,"y":0.203,"t":"SNV"},{"s":"G","i":4,"x":32073,"y":0.194,"t":"SNV"},{"s":"G","i":4,"x":32075,"y":0.185,"t":"SNV"},{"s":"G","i":4,"x":32068,"y":0.167,"t":"Deletion"},{"s":"G","i":4,"x":32078,"y":0.176,"t":"Insertion"},{"s":"G","i":4,"x":32064,"y":0.171,"t":"SNV"},{"s":"G","i":4,"x":32064,"y":0.15,"t":"SNV"},{"s":"G","i":4,"x":32064,"y":0.132,"t":"SNV"},{"s":"G","i":4,"x":32070,"y":0.15,"t":"SNV"},{"s":"G","i":4,"x":32073,"y":0.132,"t":"SNV"},{"s":"G","i":4,"x":32078,"y":0.141,"t":"Deletion"},{"s":"G","i":4,"x":32021,"y":0.153,"t":"Deletion"},{"s":"G","i":4,"x":32021,"y":0.117,"t":"Deletion"},{"s":"G","i":4,"x":32013,"y":0.11,"t":"Insertion"},{"s":"G","i":4,"x":32044,"y":0.132,"t":"SNV"},{"s":"G","i":4,"x":32052,"y":0.15,"t":"SNV"},{"s":"G","i":4,"x":32084,"y":0.123,"t":"SNV"},{"s":"G","i":4,"x":32064,"y":0.114,"t":"SNV"},{"s":"G","i":4,"x":32073,"y":0.11,"t":"SNV"}]
},
"hconcat":[
{"vconcat":[
 {"hconcat":[
  {"data":{"name":"snv"},
   "title":{"text":"A","anchor":"start","frame":"bounds","fontSize":17,"fontWeight":"bold","offset":6},
   "spacing":0,
   "vconcat":[
    {"width":124,"height":46.5,"view":{"fill":"#EBEBEB","stroke":null},"transform":[{"filter":"datum.g==='RNR1'"},{"fold":["CG>AT","CG>GC","CG>TA","TA>AT","TA>CG","TA>GC"],"as":["type","v"]}],
     "mark":{"type":"bar","stroke":"#666","strokeWidth":0.4},
     "encoding":{"y":{"field":"r","type":"nominal","scale":{"paddingInner":0.14,"paddingOuter":0.07},"axis":{"title":"RNR1","titleAngle":0,"titleAlign":"right","titleBaseline":"middle","titleFontStyle":"italic","titleFontWeight":"normal","titleFontSize":10,"titleColor":"#111","titlePadding":6,"labelFontSize":8,"labelColor":"#444","tickSize":2,"tickColor":"#444","domain":false,"labelPadding":1}},
      "x":{"field":"v","type":"quantitative","stack":"normalize","scale":{"domain":[-0.012,1.045],"nice":false},"axis":null},
      "color":{"field":"type","type":"nominal","scale":{"domain":["CG>AT","CG>GC","CG>TA","TA>AT","TA>CG","TA>GC"],"range":["#F8766D","#B79F00","#1FAF3A","#00BFC4","#619CFF","#F564E3"]},"legend":{"title":null,"orient":"none","legendX":136,"legendY":72,"symbolType":"square","symbolSize":36,"symbolStrokeWidth":0,"labelFontSize":6.5,"rowPadding":0.5,"labelOffset":2,"padding":0}},
      "order":{"field":"type","sort":"descending"}}},
    {"width":124,"height":46.5,"view":{"fill":"#EBEBEB","stroke":null},"transform":[{"filter":"datum.g==='rnr1D57N'"},{"fold":["CG>AT","CG>GC","CG>TA","TA>AT","TA>CG","TA>GC"],"as":["type","v"]}],
     "mark":{"type":"bar","stroke":"#666","strokeWidth":0.4},
     "encoding":{"y":{"field":"r","type":"nominal","scale":{"paddingInner":0.14,"paddingOuter":0.07},"axis":{"title":"rnr1D57N","titleAngle":0,"titleAlign":"right","titleBaseline":"middle","titleFontStyle":"italic","titleFontWeight":"normal","titleFontSize":10,"titleColor":"#111","titlePadding":6,"labelFontSize":8,"labelColor":"#444","tickSize":2,"tickColor":"#444","domain":false,"labelPadding":1}},
      "x":{"field":"v","type":"quantitative","stack":"normalize","scale":{"domain":[-0.012,1.045],"nice":false},"axis":null},
      "color":{"field":"type","type":"nominal","scale":{"domain":["CG>AT","CG>GC","CG>TA","TA>AT","TA>CG","TA>GC"],"range":["#F8766D","#B79F00","#1FAF3A","#00BFC4","#619CFF","#F564E3"]},"legend":{"title":null,"orient":"none","legendX":136,"legendY":72,"symbolType":"square","symbolSize":36,"symbolStrokeWidth":0,"labelFontSize":6.5,"rowPadding":0.5,"labelOffset":2,"padding":0}},
      "order":{"field":"type","sort":"descending"}}},
    {"width":124,"height":46.5,"view":{"fill":"#EBEBEB","stroke":null},"transform":[{"filter":"datum.g==='rnr1Y285F'"},{"fold":["CG>AT","CG>GC","CG>TA","TA>AT","TA>CG","TA>GC"],"as":["type","v"]}],
     "mark":{"type":"bar","stroke":"#666","strokeWidth":0.4},
     "encoding":{"y":{"field":"r","type":"nominal","scale":{"paddingInner":0.14,"paddingOuter":0.07},"axis":{"title":"rnr1Y285F","titleAngle":0,"titleAlign":"right","titleBaseline":"middle","titleFontStyle":"italic","titleFontWeight":"normal","titleFontSize":10,"titleColor":"#111","titlePadding":6,"labelFontSize":8,"labelColor":"#444","tickSize":2,"tickColor":"#444","domain":false,"labelPadding":1}},
      "x":{"field":"v","type":"quantitative","stack":"normalize","scale":{"domain":[-0.012,1.045],"nice":false},"axis":null},
      "color":{"field":"type","type":"nominal","scale":{"domain":["CG>AT","CG>GC","CG>TA","TA>AT","TA>CG","TA>GC"],"range":["#F8766D","#B79F00","#1FAF3A","#00BFC4","#619CFF","#F564E3"]},"legend":{"title":null,"orient":"none","legendX":136,"legendY":72,"symbolType":"square","symbolSize":36,"symbolStrokeWidth":0,"labelFontSize":6.5,"rowPadding":0.5,"labelOffset":2,"padding":0}},
      "order":{"field":"type","sort":"descending"}}},
    {"width":124,"height":46.5,"view":{"fill":"#EBEBEB","stroke":null},"transform":[{"filter":"datum.g==='rnr1Y285A'"},{"fold":["CG>AT","CG>GC","CG>TA","TA>AT","TA>CG","TA>GC"],"as":["type","v"]}],
     "mark":{"type":"bar","stroke":"#666","strokeWidth":0.4},
     "encoding":{"y":{"field":"r","type":"nominal","scale":{"paddingInner":0.14,"paddingOuter":0.07},"axis":{"title":"rnr1Y285A","titleAngle":0,"titleAlign":"right","titleBaseline":"middle","titleFontStyle":"italic","titleFontWeight":"normal","titleFontSize":10,"titleColor":"#111","titlePadding":6,"labelFontSize":8,"labelColor":"#444","tickSize":2,"tickColor":"#444","domain":false,"labelPadding":1}},
      "x":{"field":"v","type":"quantitative","stack":"normalize","scale":{"domain":[-0.012,1.045],"nice":false},"axis":{"values":[0,0.25,0.5,0.75,1],"format":".2f","labelAngle":-90,"labelFontSize":5,"labelColor":"#555","tickSize":2,"tickColor":"#555","domain":false,"grid":false,"title":"Normalized SNV frequency (%)","titleFontSize":8,"titleFontWeight":"normal","titleColor":"#222","titlePadding":4}},
      "color":{"field":"type","type":"nominal","scale":{"domain":["CG>AT","CG>GC","CG>TA","TA>AT","TA>CG","TA>GC"],"range":["#F8766D","#B79F00","#1FAF3A","#00BFC4","#619CFF","#F564E3"]},"legend":{"title":null,"orient":"none","legendX":136,"legendY":72,"symbolType":"square","symbolSize":36,"symbolStrokeWidth":0,"labelFontSize":6.5,"rowPadding":0.5,"labelOffset":2,"padding":0}},
      "order":{"field":"type","sort":"descending"}}}
   ]},
  {"data":{"name":"del"},
   "title":{"text":"B","anchor":"start","frame":"bounds","fontSize":17,"fontWeight":"bold","offset":6},
   "spacing":0,
   "vconcat":[
    {"width":124,"height":46.5,"view":{"fill":"#EBEBEB","stroke":null},"transform":[{"filter":"datum.g==='RNR1'"},{"fold":[">1bpdel","A/T-1","G/C-1"],"as":["type","v"]}],
     "mark":{"type":"bar","stroke":"#666","strokeWidth":0.4},
     "encoding":{"y":{"field":"r","type":"nominal","scale":{"paddingInner":0.14,"paddingOuter":0.07},"axis":{"title":"RNR1","titleAngle":0,"titleAlign":"right","titleBaseline":"middle","titleFontStyle":"italic","titleFontWeight":"normal","titleFontSize":10,"titleColor":"#111","titlePadding":6,"labelFontSize":8,"labelColor":"#444","tickSize":2,"tickColor":"#444","domain":false,"labelPadding":1}},
      "x":{"field":"v","type":"quantitative","stack":"normalize","scale":{"domain":[-0.012,1.045],"nice":false},"axis":null},
      "color":{"field":"type","type":"nominal","scale":{"domain":[">1bpdel","A/T-1","G/C-1"],"range":["#F8766D","#1FAF3A","#619CFF"]},"legend":{"title":null,"orient":"none","legendX":136,"legendY":86,"symbolType":"square","symbolSize":36,"symbolStrokeWidth":0,"labelFontSize":6.5,"rowPadding":0.5,"labelOffset":2,"padding":0}},
      "order":{"field":"type","sort":"descending"}}},
    {"width":124,"height":46.5,"view":{"fill":"#EBEBEB","stroke":null},"transform":[{"filter":"datum.g==='rnr1D57N'"},{"fold":[">1bpdel","A/T-1","G/C-1"],"as":["type","v"]}],
     "mark":{"type":"bar","stroke":"#666","strokeWidth":0.4},
     "encoding":{"y":{"field":"r","type":"nominal","scale":{"paddingInner":0.14,"paddingOuter":0.07},"axis":{"title":"rnr1D57N","titleAngle":0,"titleAlign":"right","titleBaseline":"middle","titleFontStyle":"italic","titleFontWeight":"normal","titleFontSize":10,"titleColor":"#111","titlePadding":6,"labelFontSize":8,"labelColor":"#444","tickSize":2,"tickColor":"#444","domain":false,"labelPadding":1}},
      "x":{"field":"v","type":"quantitative","stack":"normalize","scale":{"domain":[-0.012,1.045],"nice":false},"axis":null},
      "color":{"field":"type","type":"nominal","scale":{"domain":[">1bpdel","A/T-1","G/C-1"],"range":["#F8766D","#1FAF3A","#619CFF"]},"legend":{"title":null,"orient":"none","legendX":136,"legendY":86,"symbolType":"square","symbolSize":36,"symbolStrokeWidth":0,"labelFontSize":6.5,"rowPadding":0.5,"labelOffset":2,"padding":0}},
      "order":{"field":"type","sort":"descending"}}},
    {"width":124,"height":46.5,"view":{"fill":"#EBEBEB","stroke":null},"transform":[{"filter":"datum.g==='rnr1Y285F'"},{"fold":[">1bpdel","A/T-1","G/C-1"],"as":["type","v"]}],
     "mark":{"type":"bar","stroke":"#666","strokeWidth":0.4},
     "encoding":{"y":{"field":"r","type":"nominal","scale":{"paddingInner":0.14,"paddingOuter":0.07},"axis":{"title":"rnr1Y285F","titleAngle":0,"titleAlign":"right","titleBaseline":"middle","titleFontStyle":"italic","titleFontWeight":"normal","titleFontSize":10,"titleColor":"#111","titlePadding":6,"labelFontSize":8,"labelColor":"#444","tickSize":2,"tickColor":"#444","domain":false,"labelPadding":1}},
      "x":{"field":"v","type":"quantitative","stack":"normalize","scale":{"domain":[-0.012,1.045],"nice":false},"axis":null},
      "color":{"field":"type","type":"nominal","scale":{"domain":[">1bpdel","A/T-1","G/C-1"],"range":["#F8766D","#1FAF3A","#619CFF"]},"legend":{"title":null,"orient":"none","legendX":136,"legendY":86,"symbolType":"square","symbolSize":36,"symbolStrokeWidth":0,"labelFontSize":6.5,"rowPadding":0.5,"labelOffset":2,"padding":0}},
      "order":{"field":"type","sort":"descending"}}},
    {"width":124,"height":46.5,"view":{"fill":"#EBEBEB","stroke":null},"transform":[{"filter":"datum.g==='rnr1Y285A'"},{"fold":[">1bpdel","A/T-1","G/C-1"],"as":["type","v"]}],
     "mark":{"type":"bar","stroke":"#666","strokeWidth":0.4},
     "encoding":{"y":{"field":"r","type":"nominal","scale":{"paddingInner":0.14,"paddingOuter":0.07},"axis":{"title":"rnr1Y285A","titleAngle":0,"titleAlign":"right","titleBaseline":"middle","titleFontStyle":"italic","titleFontWeight":"normal","titleFontSize":10,"titleColor":"#111","titlePadding":6,"labelFontSize":8,"labelColor":"#444","tickSize":2,"tickColor":"#444","domain":false,"labelPadding":1}},
      "x":{"field":"v","type":"quantitative","stack":"normalize","scale":{"domain":[-0.012,1.045],"nice":false},"axis":{"values":[0,0.25,0.5,0.75,1],"format":".2f","labelAngle":-90,"labelFontSize":5,"labelColor":"#555","tickSize":2,"tickColor":"#555","domain":false,"grid":false,"title":"Normalized Deletion frequency (%)","titleFontSize":8,"titleFontWeight":"normal","titleColor":"#222","titlePadding":4}},
      "color":{"field":"type","type":"nominal","scale":{"domain":[">1bpdel","A/T-1","G/C-1"],"range":["#F8766D","#1FAF3A","#619CFF"]},"legend":{"title":null,"orient":"none","legendX":136,"legendY":86,"symbolType":"square","symbolSize":36,"symbolStrokeWidth":0,"labelFontSize":6.5,"rowPadding":0.5,"labelOffset":2,"padding":0}},
      "order":{"field":"type","sort":"descending"}}}
   ]}
 ],"spacing":22,"align":"none","resolve":{"scale":{"color":"independent"},"legend":{"color":"independent"}}},
 {"hconcat":[
  {"title":{"text":"C","orient":"left","anchor":"end","angle":0,"fontSize":17,"fontWeight":"bold","offset":2},
   "vconcat":[{"width":163,"height":112,
    "title":{"text":["Frequency of variants in permissive samples","mean = .1088"],"fontSize":8.5,"fontWeight":"bold","lineHeight":10,"offset":8},
    "layer":[
     {"data":{"name":"histC"},"mark":{"type":"bar","fill":"#13348F","stroke":"#0A1A45","strokeWidth":0.3},
      "encoding":{"x":{"field":"lo","type":"quantitative","bin":{"binned":true,"step":0.01},"scale":{"domain":[-0.02,1.06],"nice":false,"zero":false},"axis":{"values":[0,0.2,0.4,0.6,0.8,1],"format":".1f","title":"Variant frequency (%)","labelFontSize":6.5,"labelColor":"#333","titleFontSize":7,"titleFontWeight":"normal","tickSize":3,"domainColor":"#333","tickColor":"#333","offset":3,"grid":false,"titlePadding":3}},
       "x2":{"field":"hi"},
       "y":{"field":"n","type":"quantitative","scale":{"domain":[0,150],"nice":false},"axis":{"values":[0,50,100,150],"format":"d","labelAngle":-90,"labelAlign":"center","labelBaseline":"bottom","labelFontSize":6,"labelColor":"#333","title":"Counts","titleFontSize":7,"titleFontWeight":"normal","tickSize":3,"domainColor":"#333","tickColor":"#333","offset":4,"grid":false}}}},
     {"data":{"name":"meanC"},"mark":{"type":"rule","color":"#C45C78","strokeWidth":0.8},"encoding":{"x":{"field":"m","type":"quantitative"}}}]}]},
  {"title":{"text":"D","orient":"left","anchor":"end","angle":0,"fontSize":17,"fontWeight":"bold","offset":2},
   "vconcat":[{"width":168,"height":107,
    "title":{"text":["Frequency of variants in non-permissive samples","mean = 0.4069787"],"fontSize":8.5,"fontWeight":"bold","lineHeight":10,"offset":8},
    "layer":[
     {"data":{"name":"histD"},"mark":{"type":"bar","fill":"#13348F","stroke":"#0A1A45","strokeWidth":0.3},
      "encoding":{"x":{"field":"lo","type":"quantitative","bin":{"binned":true,"step":0.025},"scale":{"domain":[-0.02,1.05],"nice":false,"zero":false},"axis":{"values":[0,0.2,0.4,0.6,0.8,1],"format":".1f","title":"Variant frequency (%)","labelFontSize":6.5,"labelColor":"#333","titleFontSize":7,"titleFontWeight":"normal","tickSize":3,"domainColor":"#333","tickColor":"#333","offset":3,"grid":false,"titlePadding":3}},
       "x2":{"field":"hi"},
       "y":{"field":"n","type":"quantitative","scale":{"domain":[0,4000],"nice":false},"axis":{"values":[0,1000,2000,3000,4000],"format":"d","labelAngle":-90,"labelAlign":"center","labelBaseline":"bottom","labelFontSize":6,"labelColor":"#333","title":"Counts","titleFontSize":7,"titleFontWeight":"normal","tickSize":3,"domainColor":"#333","tickColor":"#333","offset":4,"grid":false}}}},
     {"data":{"name":"meanD"},"mark":{"type":"rule","color":"#C45C78","strokeWidth":0.8},"encoding":{"x":{"field":"m","type":"quantitative"}}}]}]}
 ],"spacing":2,"align":"none"}
],"spacing":18,"align":"none","resolve":{"scale":{"color":"independent"},"legend":{"color":"independent"}}},
{"vconcat":[
 {"hconcat":[
  {"width":62,"height":100,"view":{"stroke":"#444","strokeWidth":1},"title":{"text":"E","orient":"left","anchor":"end","angle":0,"fontSize":16,"fontWeight":"bold","offset":2},"resolve":{"axis":{"x":"independent"}},
   "layer":[
    {"data":{"name":"strips"},"transform":[{"filter":"datum.s==='E'&&datum.i===1"}],"mark":{"type":"rect","fill":"#FFE5CC","stroke":"#444","strokeWidth":0.8},"encoding":{"y":{"datum":0.5,"type":"quantitative","axis":null},"y2":{"datum":0.545}}},
    {"data":{"name":"strips"},"transform":[{"filter":"datum.s==='E'&&datum.i===1"}],"mark":{"type":"text","fontSize":6,"color":"#111"},"encoding":{"x":{"datum":32052,"type":"quantitative","axis":{"orient":"top","values":[32020,32040,32060,32080],"labels":false,"tickSize":3,"tickColor":"#333","domain":false,"grid":false,"title":null}},"y":{"datum":0.5225,"type":"quantitative","axis":null},"text":{"field":"p"}}},
    {"data":{"name":"pts"},"transform":[{"filter":"datum.s==='E'&&datum.i===1"}],"mark":{"type":"circle","size":9,"opacity":0.95},
     "encoding":{"x":{"field":"x","type":"quantitative","scale":{"domain":[32009,32095],"nice":false,"zero":false},"axis":{"orient":"bottom","values":[32020,32040,32060,32080],"format":"d","labelFontSize":4.5,"labelColor":"#333","labelPadding":1,"tickSize":3,"tickColor":"#333","domain":false,"grid":false,"title":null,"labelOverlap":false,"labelFlush":false}},
      "y":{"field":"y","type":"quantitative","scale":{"domain":[0,0.545],"nice":false},"axis":{"orient":"left","values":[0.1,0.2,0.3,0.4],"format":".1f","labelFontSize":5,"labelColor":"#333","labelPadding":1,"tickSize":3,"tickColor":"#333","domain":false,"grid":false,"title":"Frequency","titleFontSize":6,"titleFontWeight":"normal","titlePadding":3}},
      "color":{"field":"t","type":"nominal","scale":{"domain":["Deletion","Insertion","MNV","Replacement","SNV"],"range":["#2D7FDB","#E045E0","#224A22","#E8303C","#F0A540"]},"legend":{"title":null,"orient":"top","direction":"horizontal","labelFontSize":6.5,"symbolType":"circle","symbolSize":14,"symbolOpacity":0.6,"columnPadding":14,"offset":3,"padding":0,"labelOffset":3}}}}]},
  {"width":62,"height":100,"view":{"stroke":"#444","strokeWidth":1},"resolve":{"axis":{"x":"independent"}},
   "layer":[
    {"data":{"name":"strips"},"transform":[{"filter":"datum.s==='E'&&datum.i===2"}],"mark":{"type":"rect","fill":"#FFE5CC","stroke":"#444","strokeWidth":0.8},"encoding":{"y":{"datum":0.5,"type":"quantitative","axis":null},"y2":{"datum":0.545}}},
    {"data":{"name":"strips"},"transform":[{"filter":"datum.s==='E'&&datum.i===2"}],"mark":{"type":"text","fontSize":6,"color":"#111"},"encoding":{"x":{"datum":32052,"type":"quantitative","axis":{"orient":"top","values":[32020,32040,32060,32080],"format":"d","labelFontSize":4.5,"labelColor":"#333","labelPadding":1,"tickSize":3,"tickColor":"#333","domain":false,"grid":false,"title":null,"labelOverlap":false,"labelFlush":false}},"y":{"datum":0.5225,"type":"quantitative","axis":null},"text":{"field":"p"}}},
    {"data":{"name":"pts"},"transform":[{"filter":"datum.s==='E'&&datum.i===2"}],"mark":{"type":"circle","size":9,"opacity":0.95},
     "encoding":{"x":{"field":"x","type":"quantitative","scale":{"domain":[32009,32095],"nice":false,"zero":false},"axis":{"orient":"bottom","values":[32020,32040,32060,32080],"labels":false,"tickSize":3,"tickColor":"#333","domain":false,"grid":false,"title":null}},
      "y":{"field":"y","type":"quantitative","scale":{"domain":[0,0.545],"nice":false},"axis":null},
      "color":{"field":"t","type":"nominal","scale":{"domain":["Deletion","Insertion","MNV","Replacement","SNV"],"range":["#2D7FDB","#E045E0","#224A22","#E8303C","#F0A540"]},"legend":{"title":null,"orient":"top","direction":"horizontal","labelFontSize":6.5,"symbolType":"circle","symbolSize":14,"symbolOpacity":0.6,"columnPadding":14,"offset":3,"padding":0,"labelOffset":3}}}}]},
  {"width":62,"height":100,"view":{"stroke":"#444","strokeWidth":1},"resolve":{"axis":{"x":"independent"}},
   "layer":[
    {"data":{"name":"strips"},"transform":[{"filter":"datum.s==='E'&&datum.i===3"}],"mark":{"type":"rect","fill":"#FFE5CC","stroke":"#444","strokeWidth":0.8},"encoding":{"y":{"datum":0.5,"type":"quantitative","axis":null},"y2":{"datum":0.545}}},
    {"data":{"name":"strips"},"transform":[{"filter":"datum.s==='E'&&datum.i===3"}],"mark":{"type":"text","fontSize":6,"color":"#111"},"encoding":{"x":{"datum":32052,"type":"quantitative","axis":{"orient":"top","values":[32020,32040,32060,32080],"labels":false,"tickSize":3,"tickColor":"#333","domain":false,"grid":false,"title":null}},"y":{"datum":0.5225,"type":"quantitative","axis":null},"text":{"field":"p"}}},
    {"data":{"name":"pts"},"transform":[{"filter":"datum.s==='E'&&datum.i===3"}],"mark":{"type":"circle","size":9,"opacity":0.95},
     "encoding":{"x":{"field":"x","type":"quantitative","scale":{"domain":[32009,32095],"nice":false,"zero":false},"axis":{"orient":"bottom","values":[32020,32040,32060,32080],"format":"d","labelFontSize":4.5,"labelColor":"#333","labelPadding":1,"tickSize":3,"tickColor":"#333","domain":false,"grid":false,"title":null,"labelOverlap":false,"labelFlush":false}},
      "y":{"field":"y","type":"quantitative","scale":{"domain":[0,0.545],"nice":false},"axis":null},
      "color":{"field":"t","type":"nominal","scale":{"domain":["Deletion","Insertion","MNV","Replacement","SNV"],"range":["#2D7FDB","#E045E0","#224A22","#E8303C","#F0A540"]},"legend":{"title":null,"orient":"top","direction":"horizontal","labelFontSize":6.5,"symbolType":"circle","symbolSize":14,"symbolOpacity":0.6,"columnPadding":14,"offset":3,"padding":0,"labelOffset":3}}}}]},
  {"width":62,"height":100,"view":{"stroke":"#444","strokeWidth":1},"resolve":{"axis":{"x":"independent"}},
   "layer":[
    {"data":{"name":"strips"},"transform":[{"filter":"datum.s==='E'&&datum.i===4"}],"mark":{"type":"rect","fill":"#FFE5CC","stroke":"#444","strokeWidth":0.8},"encoding":{"y":{"datum":0.5,"type":"quantitative","axis":null},"y2":{"datum":0.545}}},
    {"data":{"name":"strips"},"transform":[{"filter":"datum.s==='E'&&datum.i===4"}],"mark":{"type":"text","fontSize":6,"color":"#111"},"encoding":{"x":{"datum":32052,"type":"quantitative","axis":{"orient":"top","values":[32020,32040,32060,32080],"format":"d","labelFontSize":4.5,"labelColor":"#333","labelPadding":1,"tickSize":3,"tickColor":"#333","domain":false,"grid":false,"title":null,"labelOverlap":false,"labelFlush":false}},"y":{"datum":0.5225,"type":"quantitative","axis":null},"text":{"field":"p"}}},
    {"data":{"name":"pts"},"transform":[{"filter":"datum.s==='E'&&datum.i===4"}],"mark":{"type":"circle","size":9,"opacity":0.95},
     "encoding":{"x":{"field":"x","type":"quantitative","scale":{"domain":[32009,32095],"nice":false,"zero":false},"axis":{"orient":"bottom","values":[32020,32040,32060,32080],"labels":false,"tickSize":3,"tickColor":"#333","domain":false,"grid":false,"title":null}},
      "y":{"field":"y","type":"quantitative","scale":{"domain":[0,0.545],"nice":false},"axis":{"orient":"right","values":[0.1,0.2,0.3,0.4],"labels":false,"tickSize":3,"tickColor":"#333","domain":false,"grid":false,"title":null}},
      "color":{"field":"t","type":"nominal","scale":{"domain":["Deletion","Insertion","MNV","Replacement","SNV"],"range":["#2D7FDB","#E045E0","#224A22","#E8303C","#F0A540"]},"legend":{"title":null,"orient":"top","direction":"horizontal","labelFontSize":6.5,"symbolType":"circle","symbolSize":14,"symbolOpacity":0.6,"columnPadding":14,"offset":3,"padding":0,"labelOffset":3}}}}]}
 ],"spacing":0,"bounds":"flush","align":"none","title":{"text":"Reference Position","orient":"bottom","anchor":"middle","fontSize":6.5,"fontWeight":"normal","offset":3}},
 {"hconcat":[
  {"width":62,"height":100,"view":{"stroke":"#444","strokeWidth":1},"title":{"text":"F","orient":"left","anchor":"end","angle":0,"fontSize":16,"fontWeight":"bold","offset":2},"resolve":{"axis":{"x":"independent"}},
   "layer":[
    {"data":{"name":"strips"},"transform":[{"filter":"datum.s==='F'&&datum.i===1"}],"mark":{"type":"rect","fill":"#FFE5CC","stroke":"#444","strokeWidth":0.8},"encoding":{"y":{"datum":0.5,"type":"quantitative","axis":null},"y2":{"datum":0.545}}},
    {"data":{"name":"strips"},"transform":[{"filter":"datum.s==='F'&&datum.i===1"}],"mark":{"type":"text","fontSize":6,"color":"#111"},"encoding":{"x":{"datum":32052,"type":"quantitative","axis":{"orient":"top","values":[32020,32040,32060,32080],"labels":false,"tickSize":3,"tickColor":"#333","domain":false,"grid":false,"title":null}},"y":{"datum":0.5225,"type":"quantitative","axis":null},"text":{"field":"p"}}},
    {"data":{"name":"pts"},"transform":[{"filter":"datum.s==='F'&&datum.i===1"}],"mark":{"type":"circle","size":9,"opacity":0.95},
     "encoding":{"x":{"field":"x","type":"quantitative","scale":{"domain":[32009,32095],"nice":false,"zero":false},"axis":{"orient":"bottom","values":[32020,32040,32060,32080],"format":"d","labelFontSize":4.5,"labelColor":"#333","labelPadding":1,"tickSize":3,"tickColor":"#333","domain":false,"grid":false,"title":null,"labelOverlap":false,"labelFlush":false}},
      "y":{"field":"y","type":"quantitative","scale":{"domain":[0,0.545],"nice":false},"axis":{"orient":"left","values":[0.1,0.2,0.3,0.4],"format":".1f","labelFontSize":5,"labelColor":"#333","labelPadding":1,"tickSize":3,"tickColor":"#333","domain":false,"grid":false,"title":"Frequency","titleFontSize":6,"titleFontWeight":"normal","titlePadding":3}},
      "color":{"field":"t","type":"nominal","scale":{"domain":["Deletion","Insertion","MNV","Replacement","SNV"],"range":["#2D7FDB","#E045E0","#224A22","#E8303C","#F0A540"]},"legend":{"title":null,"orient":"top","direction":"horizontal","labelFontSize":6.5,"symbolType":"circle","symbolSize":14,"symbolOpacity":0.6,"columnPadding":14,"offset":3,"padding":0,"labelOffset":3}}}}]},
  {"width":62,"height":100,"view":{"stroke":"#444","strokeWidth":1},"resolve":{"axis":{"x":"independent"}},
   "layer":[
    {"data":{"name":"strips"},"transform":[{"filter":"datum.s==='F'&&datum.i===2"}],"mark":{"type":"rect","fill":"#FFE5CC","stroke":"#444","strokeWidth":0.8},"encoding":{"y":{"datum":0.5,"type":"quantitative","axis":null},"y2":{"datum":0.545}}},
    {"data":{"name":"strips"},"transform":[{"filter":"datum.s==='F'&&datum.i===2"}],"mark":{"type":"text","fontSize":6,"color":"#111"},"encoding":{"x":{"datum":32052,"type":"quantitative","axis":{"orient":"top","values":[32020,32040,32060,32080],"format":"d","labelFontSize":4.5,"labelColor":"#333","labelPadding":1,"tickSize":3,"tickColor":"#333","domain":false,"grid":false,"title":null,"labelOverlap":false,"labelFlush":false}},"y":{"datum":0.5225,"type":"quantitative","axis":null},"text":{"field":"p"}}},
    {"data":{"name":"pts"},"transform":[{"filter":"datum.s==='F'&&datum.i===2"}],"mark":{"type":"circle","size":9,"opacity":0.95},
     "encoding":{"x":{"field":"x","type":"quantitative","scale":{"domain":[32009,32095],"nice":false,"zero":false},"axis":{"orient":"bottom","values":[32020,32040,32060,32080],"labels":false,"tickSize":3,"tickColor":"#333","domain":false,"grid":false,"title":null}},
      "y":{"field":"y","type":"quantitative","scale":{"domain":[0,0.545],"nice":false},"axis":null},
      "color":{"field":"t","type":"nominal","scale":{"domain":["Deletion","Insertion","MNV","Replacement","SNV"],"range":["#2D7FDB","#E045E0","#224A22","#E8303C","#F0A540"]},"legend":{"title":null,"orient":"top","direction":"horizontal","labelFontSize":6.5,"symbolType":"circle","symbolSize":14,"symbolOpacity":0.6,"columnPadding":14,"offset":3,"padding":0,"labelOffset":3}}}}]},
  {"width":62,"height":100,"view":{"stroke":"#444","strokeWidth":1},"resolve":{"axis":{"x":"independent"}},
   "layer":[
    {"data":{"name":"strips"},"transform":[{"filter":"datum.s==='F'&&datum.i===3"}],"mark":{"type":"rect","fill":"#FFE5CC","stroke":"#444","strokeWidth":0.8},"encoding":{"y":{"datum":0.5,"type":"quantitative","axis":null},"y2":{"datum":0.545}}},
    {"data":{"name":"strips"},"transform":[{"filter":"datum.s==='F'&&datum.i===3"}],"mark":{"type":"text","fontSize":6,"color":"#111"},"encoding":{"x":{"datum":32052,"type":"quantitative","axis":{"orient":"top","values":[32020,32040,32060,32080],"labels":false,"tickSize":3,"tickColor":"#333","domain":false,"grid":false,"title":null}},"y":{"datum":0.5225,"type":"quantitative","axis":null},"text":{"field":"p"}}},
    {"data":{"name":"pts"},"transform":[{"filter":"datum.s==='F'&&datum.i===3"}],"mark":{"type":"circle","size":9,"opacity":0.95},
     "encoding":{"x":{"field":"x","type":"quantitative","scale":{"domain":[32009,32095],"nice":false,"zero":false},"axis":{"orient":"bottom","values":[32020,32040,32060,32080],"format":"d","labelFontSize":4.5,"labelColor":"#333","labelPadding":1,"tickSize":3,"tickColor":"#333","domain":false,"grid":false,"title":null,"labelOverlap":false,"labelFlush":false}},
      "y":{"field":"y","type":"quantitative","scale":{"domain":[0,0.545],"nice":false},"axis":null},
      "color":{"field":"t","type":"nominal","scale":{"domain":["Deletion","Insertion","MNV","Replacement","SNV"],"range":["#2D7FDB","#E045E0","#224A22","#E8303C","#F0A540"]},"legend":{"title":null,"orient":"top","direction":"horizontal","labelFontSize":6.5,"symbolType":"circle","symbolSize":14,"symbolOpacity":0.6,"columnPadding":14,"offset":3,"padding":0,"labelOffset":3}}}}]},
  {"width":62,"height":100,"view":{"stroke":"#444","strokeWidth":1},"resolve":{"axis":{"x":"independent"}},
   "layer":[
    {"data":{"name":"strips"},"transform":[{"filter":"datum.s==='F'&&datum.i===4"}],"mark":{"type":"rect","fill":"#FFE5CC","stroke":"#444","strokeWidth":0.8},"encoding":{"y":{"datum":0.5,"type":"quantitative","axis":null},"y2":{"datum":0.545}}},
    {"data":{"name":"strips"},"transform":[{"filter":"datum.s==='F'&&datum.i===4"}],"mark":{"type":"text","fontSize":6,"color":"#111"},"encoding":{"x":{"datum":32052,"type":"quantitative","axis":{"orient":"top","values":[32020,32040,32060,32080],"format":"d","labelFontSize":4.5,"labelColor":"#333","labelPadding":1,"tickSize":3,"tickColor":"#333","domain":false,"grid":false,"title":null,"labelOverlap":false,"labelFlush":false}},"y":{"datum":0.5225,"type":"quantitative","axis":null},"text":{"field":"p"}}},
    {"data":{"name":"pts"},"transform":[{"filter":"datum.s==='F'&&datum.i===4"}],"mark":{"type":"circle","size":9,"opacity":0.95},
     "encoding":{"x":{"field":"x","type":"quantitative","scale":{"domain":[32009,32095],"nice":false,"zero":false},"axis":{"orient":"bottom","values":[32020,32040,32060,32080],"labels":false,"tickSize":3,"tickColor":"#333","domain":false,"grid":false,"title":null}},
      "y":{"field":"y","type":"quantitative","scale":{"domain":[0,0.545],"nice":false},"axis":{"orient":"right","values":[0.1,0.2,0.3,0.4],"labels":false,"tickSize":3,"tickColor":"#333","domain":false,"grid":false,"title":null}},
      "color":{"field":"t","type":"nominal","scale":{"domain":["Deletion","Insertion","MNV","Replacement","SNV"],"range":["#2D7FDB","#E045E0","#224A22","#E8303C","#F0A540"]},"legend":{"title":null,"orient":"top","direction":"horizontal","labelFontSize":6.5,"symbolType":"circle","symbolSize":14,"symbolOpacity":0.6,"columnPadding":14,"offset":3,"padding":0,"labelOffset":3}}}}]}
 ],"spacing":0,"bounds":"flush","align":"none","title":{"text":"Reference Position","orient":"bottom","anchor":"middle","fontSize":6.5,"fontWeight":"normal","offset":3}},
 {"hconcat":[
  {"width":62,"height":100,"view":{"stroke":"#444","strokeWidth":1},"title":{"text":"G","orient":"left","anchor":"end","angle":0,"fontSize":16,"fontWeight":"bold","offset":2},"resolve":{"axis":{"x":"independent"}},
   "layer":[
    {"data":{"name":"strips"},"transform":[{"filter":"datum.s==='G'&&datum.i===1"}],"mark":{"type":"rect","fill":"#FFE5CC","stroke":"#444","strokeWidth":0.8},"encoding":{"y":{"datum":0.5,"type":"quantitative","axis":null},"y2":{"datum":0.545}}},
    {"data":{"name":"strips"},"transform":[{"filter":"datum.s==='G'&&datum.i===1"}],"mark":{"type":"text","fontSize":6,"color":"#111"},"encoding":{"x":{"datum":32052,"type":"quantitative","axis":{"orient":"top","values":[32020,32040,32060,32080],"labels":false,"tickSize":3,"tickColor":"#333","domain":false,"grid":false,"title":null}},"y":{"datum":0.5225,"type":"quantitative","axis":null},"text":{"field":"p"}}},
    {"data":{"name":"pts"},"transform":[{"filter":"datum.s==='G'&&datum.i===1"}],"mark":{"type":"circle","size":9,"opacity":0.95},
     "encoding":{"x":{"field":"x","type":"quantitative","scale":{"domain":[32009,32095],"nice":false,"zero":false},"axis":{"orient":"bottom","values":[32020,32040,32060,32080],"format":"d","labelFontSize":4.5,"labelColor":"#333","labelPadding":1,"tickSize":3,"tickColor":"#333","domain":false,"grid":false,"title":null,"labelOverlap":false,"labelFlush":false}},
      "y":{"field":"y","type":"quantitative","scale":{"domain":[0,0.545],"nice":false},"axis":{"orient":"left","values":[0.1,0.2,0.3,0.4],"format":".1f","labelFontSize":5,"labelColor":"#333","labelPadding":1,"tickSize":3,"tickColor":"#333","domain":false,"grid":false,"title":"Frequency","titleFontSize":6,"titleFontWeight":"normal","titlePadding":3}},
      "color":{"field":"t","type":"nominal","scale":{"domain":["Deletion","Insertion","MNV","Replacement","SNV"],"range":["#2D7FDB","#E045E0","#224A22","#E8303C","#F0A540"]},"legend":{"title":null,"orient":"top","direction":"horizontal","labelFontSize":6.5,"symbolType":"circle","symbolSize":14,"symbolOpacity":0.6,"columnPadding":14,"offset":3,"padding":0,"labelOffset":3}}}}]},
  {"width":62,"height":100,"view":{"stroke":"#444","strokeWidth":1},"resolve":{"axis":{"x":"independent"}},
   "layer":[
    {"data":{"name":"strips"},"transform":[{"filter":"datum.s==='G'&&datum.i===2"}],"mark":{"type":"rect","fill":"#FFE5CC","stroke":"#444","strokeWidth":0.8},"encoding":{"y":{"datum":0.5,"type":"quantitative","axis":null},"y2":{"datum":0.545}}},
    {"data":{"name":"strips"},"transform":[{"filter":"datum.s==='G'&&datum.i===2"}],"mark":{"type":"text","fontSize":6,"color":"#111"},"encoding":{"x":{"datum":32052,"type":"quantitative","axis":{"orient":"top","values":[32020,32040,32060,32080],"format":"d","labelFontSize":4.5,"labelColor":"#333","labelPadding":1,"tickSize":3,"tickColor":"#333","domain":false,"grid":false,"title":null,"labelOverlap":false,"labelFlush":false}},"y":{"datum":0.5225,"type":"quantitative","axis":null},"text":{"field":"p"}}},
    {"data":{"name":"pts"},"transform":[{"filter":"datum.s==='G'&&datum.i===2"}],"mark":{"type":"circle","size":9,"opacity":0.95},
     "encoding":{"x":{"field":"x","type":"quantitative","scale":{"domain":[32009,32095],"nice":false,"zero":false},"axis":{"orient":"bottom","values":[32020,32040,32060,32080],"labels":false,"tickSize":3,"tickColor":"#333","domain":false,"grid":false,"title":null}},
      "y":{"field":"y","type":"quantitative","scale":{"domain":[0,0.545],"nice":false},"axis":null},
      "color":{"field":"t","type":"nominal","scale":{"domain":["Deletion","Insertion","MNV","Replacement","SNV"],"range":["#2D7FDB","#E045E0","#224A22","#E8303C","#F0A540"]},"legend":{"title":null,"orient":"top","direction":"horizontal","labelFontSize":6.5,"symbolType":"circle","symbolSize":14,"symbolOpacity":0.6,"columnPadding":14,"offset":3,"padding":0,"labelOffset":3}}}}]},
  {"width":62,"height":100,"view":{"stroke":"#444","strokeWidth":1},"resolve":{"axis":{"x":"independent"}},
   "layer":[
    {"data":{"name":"strips"},"transform":[{"filter":"datum.s==='G'&&datum.i===3"}],"mark":{"type":"rect","fill":"#FFE5CC","stroke":"#444","strokeWidth":0.8},"encoding":{"y":{"datum":0.5,"type":"quantitative","axis":null},"y2":{"datum":0.545}}},
    {"data":{"name":"strips"},"transform":[{"filter":"datum.s==='G'&&datum.i===3"}],"mark":{"type":"text","fontSize":6,"color":"#111"},"encoding":{"x":{"datum":32052,"type":"quantitative","axis":{"orient":"top","values":[32020,32040,32060,32080],"labels":false,"tickSize":3,"tickColor":"#333","domain":false,"grid":false,"title":null}},"y":{"datum":0.5225,"type":"quantitative","axis":null},"text":{"field":"p"}}},
    {"data":{"name":"pts"},"transform":[{"filter":"datum.s==='G'&&datum.i===3"}],"mark":{"type":"circle","size":9,"opacity":0.95},
     "encoding":{"x":{"field":"x","type":"quantitative","scale":{"domain":[32009,32095],"nice":false,"zero":false},"axis":{"orient":"bottom","values":[32020,32040,32060,32080],"format":"d","labelFontSize":4.5,"labelColor":"#333","labelPadding":1,"tickSize":3,"tickColor":"#333","domain":false,"grid":false,"title":null,"labelOverlap":false,"labelFlush":false}},
      "y":{"field":"y","type":"quantitative","scale":{"domain":[0,0.545],"nice":false},"axis":null},
      "color":{"field":"t","type":"nominal","scale":{"domain":["Deletion","Insertion","MNV","Replacement","SNV"],"range":["#2D7FDB","#E045E0","#224A22","#E8303C","#F0A540"]},"legend":{"title":null,"orient":"top","direction":"horizontal","labelFontSize":6.5,"symbolType":"circle","symbolSize":14,"symbolOpacity":0.6,"columnPadding":14,"offset":3,"padding":0,"labelOffset":3}}}}]},
  {"width":62,"height":100,"view":{"stroke":"#444","strokeWidth":1},"resolve":{"axis":{"x":"independent"}},
   "layer":[
    {"data":{"name":"strips"},"transform":[{"filter":"datum.s==='G'&&datum.i===4"}],"mark":{"type":"rect","fill":"#FFE5CC","stroke":"#444","strokeWidth":0.8},"encoding":{"y":{"datum":0.5,"type":"quantitative","axis":null},"y2":{"datum":0.545}}},
    {"data":{"name":"strips"},"transform":[{"filter":"datum.s==='G'&&datum.i===4"}],"mark":{"type":"text","fontSize":6,"color":"#111"},"encoding":{"x":{"datum":32052,"type":"quantitative","axis":{"orient":"top","values":[32020,32040,32060,32080],"format":"d","labelFontSize":4.5,"labelColor":"#333","labelPadding":1,"tickSize":3,"tickColor":"#333","domain":false,"grid":false,"title":null,"labelOverlap":false,"labelFlush":false}},"y":{"datum":0.5225,"type":"quantitative","axis":null},"text":{"field":"p"}}},
    {"data":{"name":"pts"},"transform":[{"filter":"datum.s==='G'&&datum.i===4"}],"mark":{"type":"circle","size":9,"opacity":0.95},
     "encoding":{"x":{"field":"x","type":"quantitative","scale":{"domain":[32009,32095],"nice":false,"zero":false},"axis":{"orient":"bottom","values":[32020,32040,32060,32080],"labels":false,"tickSize":3,"tickColor":"#333","domain":false,"grid":false,"title":null}},
      "y":{"field":"y","type":"quantitative","scale":{"domain":[0,0.545],"nice":false},"axis":{"orient":"right","values":[0.1,0.2,0.3,0.4],"labels":false,"tickSize":3,"tickColor":"#333","domain":false,"grid":false,"title":null}},
      "color":{"field":"t","type":"nominal","scale":{"domain":["Deletion","Insertion","MNV","Replacement","SNV"],"range":["#2D7FDB","#E045E0","#224A22","#E8303C","#F0A540"]},"legend":{"title":null,"orient":"top","direction":"horizontal","labelFontSize":6.5,"symbolType":"circle","symbolSize":14,"symbolOpacity":0.6,"columnPadding":14,"offset":3,"padding":0,"labelOffset":3}}}}]}
 ],"spacing":0,"bounds":"flush","align":"none","title":{"text":"Reference Position","orient":"bottom","anchor":"middle","fontSize":6.5,"fontWeight":"normal","offset":3}}
],"spacing":8,"align":"none","resolve":{"scale":{"color":"independent"},"legend":{"color":"independent"}}}
],
"spacing":4,"align":"none","resolve":{"scale":{"color":"independent"},"legend":{"color":"independent"}}
}
